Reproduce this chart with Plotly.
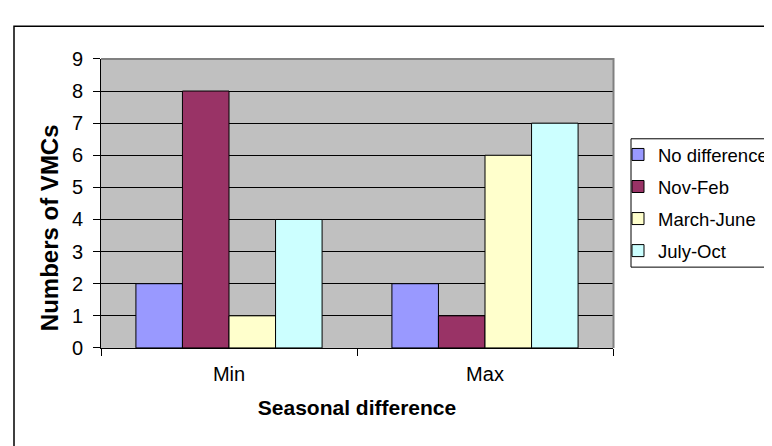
import plotly.graph_objects as go

W, H = 772, 446
categories = ["Min", "Max"]
series_names = ["No difference", "Nov-Feb", "March-June", "July-Oct"]
series_values = [
    [2, 2],
    [8, 1],
    [1, 6],
    [4, 7],
]
colors = ["#9999FF", "#993366", "#FFFFCC", "#CCFFFF"]
y_ticks = list(range(0, 10))

def px(x):
    return x / W

def py(y):
    return 1 - y / H

FONT = "Liberation Sans, Arial, sans-serif"

fig = go.Figure()
for i, (name, vals) in enumerate(zip(series_names, series_values)):
    fig.add_trace(go.Bar(
        name=name, x=categories, y=vals,
        marker=dict(color=colors[i], line=dict(color="black", width=1)),
        legendgroup=name,
    ))

fig.update_layout(
    width=W, height=H,
    margin=dict(l=0, r=0, t=0, b=0),
    paper_bgcolor="white",
    plot_bgcolor="#C0C0C0",
    barmode="group",
    bargap=0.2727,
    bargroupgap=0,
    font=dict(family=FONT, size=20, color="black"),
    showlegend=True,
    legend=dict(
        x=px(610), y=py(123), xanchor="left", yanchor="top",
        bgcolor="rgba(0,0,0,0)", borderwidth=0,
        font=dict(size=18.5), tracegroupgap=5,
    ),
    xaxis=dict(
        domain=[px(93), px(605)],
        type="category",
        showgrid=False,
        showline=True, linecolor="black", linewidth=1,
        ticks="outside", tickson="boundaries", ticklen=7, tickcolor="black",
        ticklabelstandoff=8,
        tickfont=dict(size=20),
        title=dict(text="<b>Seasonal difference</b>", font=dict(size=21), standoff=16),
        fixedrange=True,
    ),
    yaxis=dict(
        domain=[py(346), py(42)],
        range=[0, 9],
        tickvals=y_ticks,
        showgrid=True, gridcolor="black", gridwidth=1,
        zeroline=False,
        showline=True, linecolor="black", linewidth=1,
        ticks="outside", ticklen=7, tickcolor="black",
        ticklabelstandoff=6,
        tickfont=dict(size=20),
        fixedrange=True,
    ),
    shapes=[
        # plot area border (top & right, gray)
        dict(type="line", xref="paper", yref="paper", x0=px(93), x1=px(606), y0=py(42), y1=py(42),
             line=dict(color="#808080", width=2)),
        dict(type="line", xref="paper", yref="paper", x0=px(605.5), x1=px(605.5), y0=py(346), y1=py(41),
             line=dict(color="#808080", width=2)),
        # legend box
        dict(type="rect", xref="paper", yref="paper", x0=px(623), x1=px(785), y0=py(261), y1=py(126),
             line=dict(color="black", width=1), fillcolor="rgba(0,0,0,0)"),
        # outer chart border
        dict(type="rect", xref="paper", yref="paper", x0=px(6), x1=px(790), y0=py(460), y1=py(7.5),
             line=dict(color="black", width=1.5), fillcolor="rgba(0,0,0,0)"),
    ],
    annotations=[
        dict(text="<b>Numbers of VMCs</b>", xref="paper", yref="paper",
             x=px(41), y=py(220), textangle=-90, showarrow=False,
             xanchor="center", yanchor="middle", font=dict(size=24)),
    ],
)

fig.write_html("out.html")
